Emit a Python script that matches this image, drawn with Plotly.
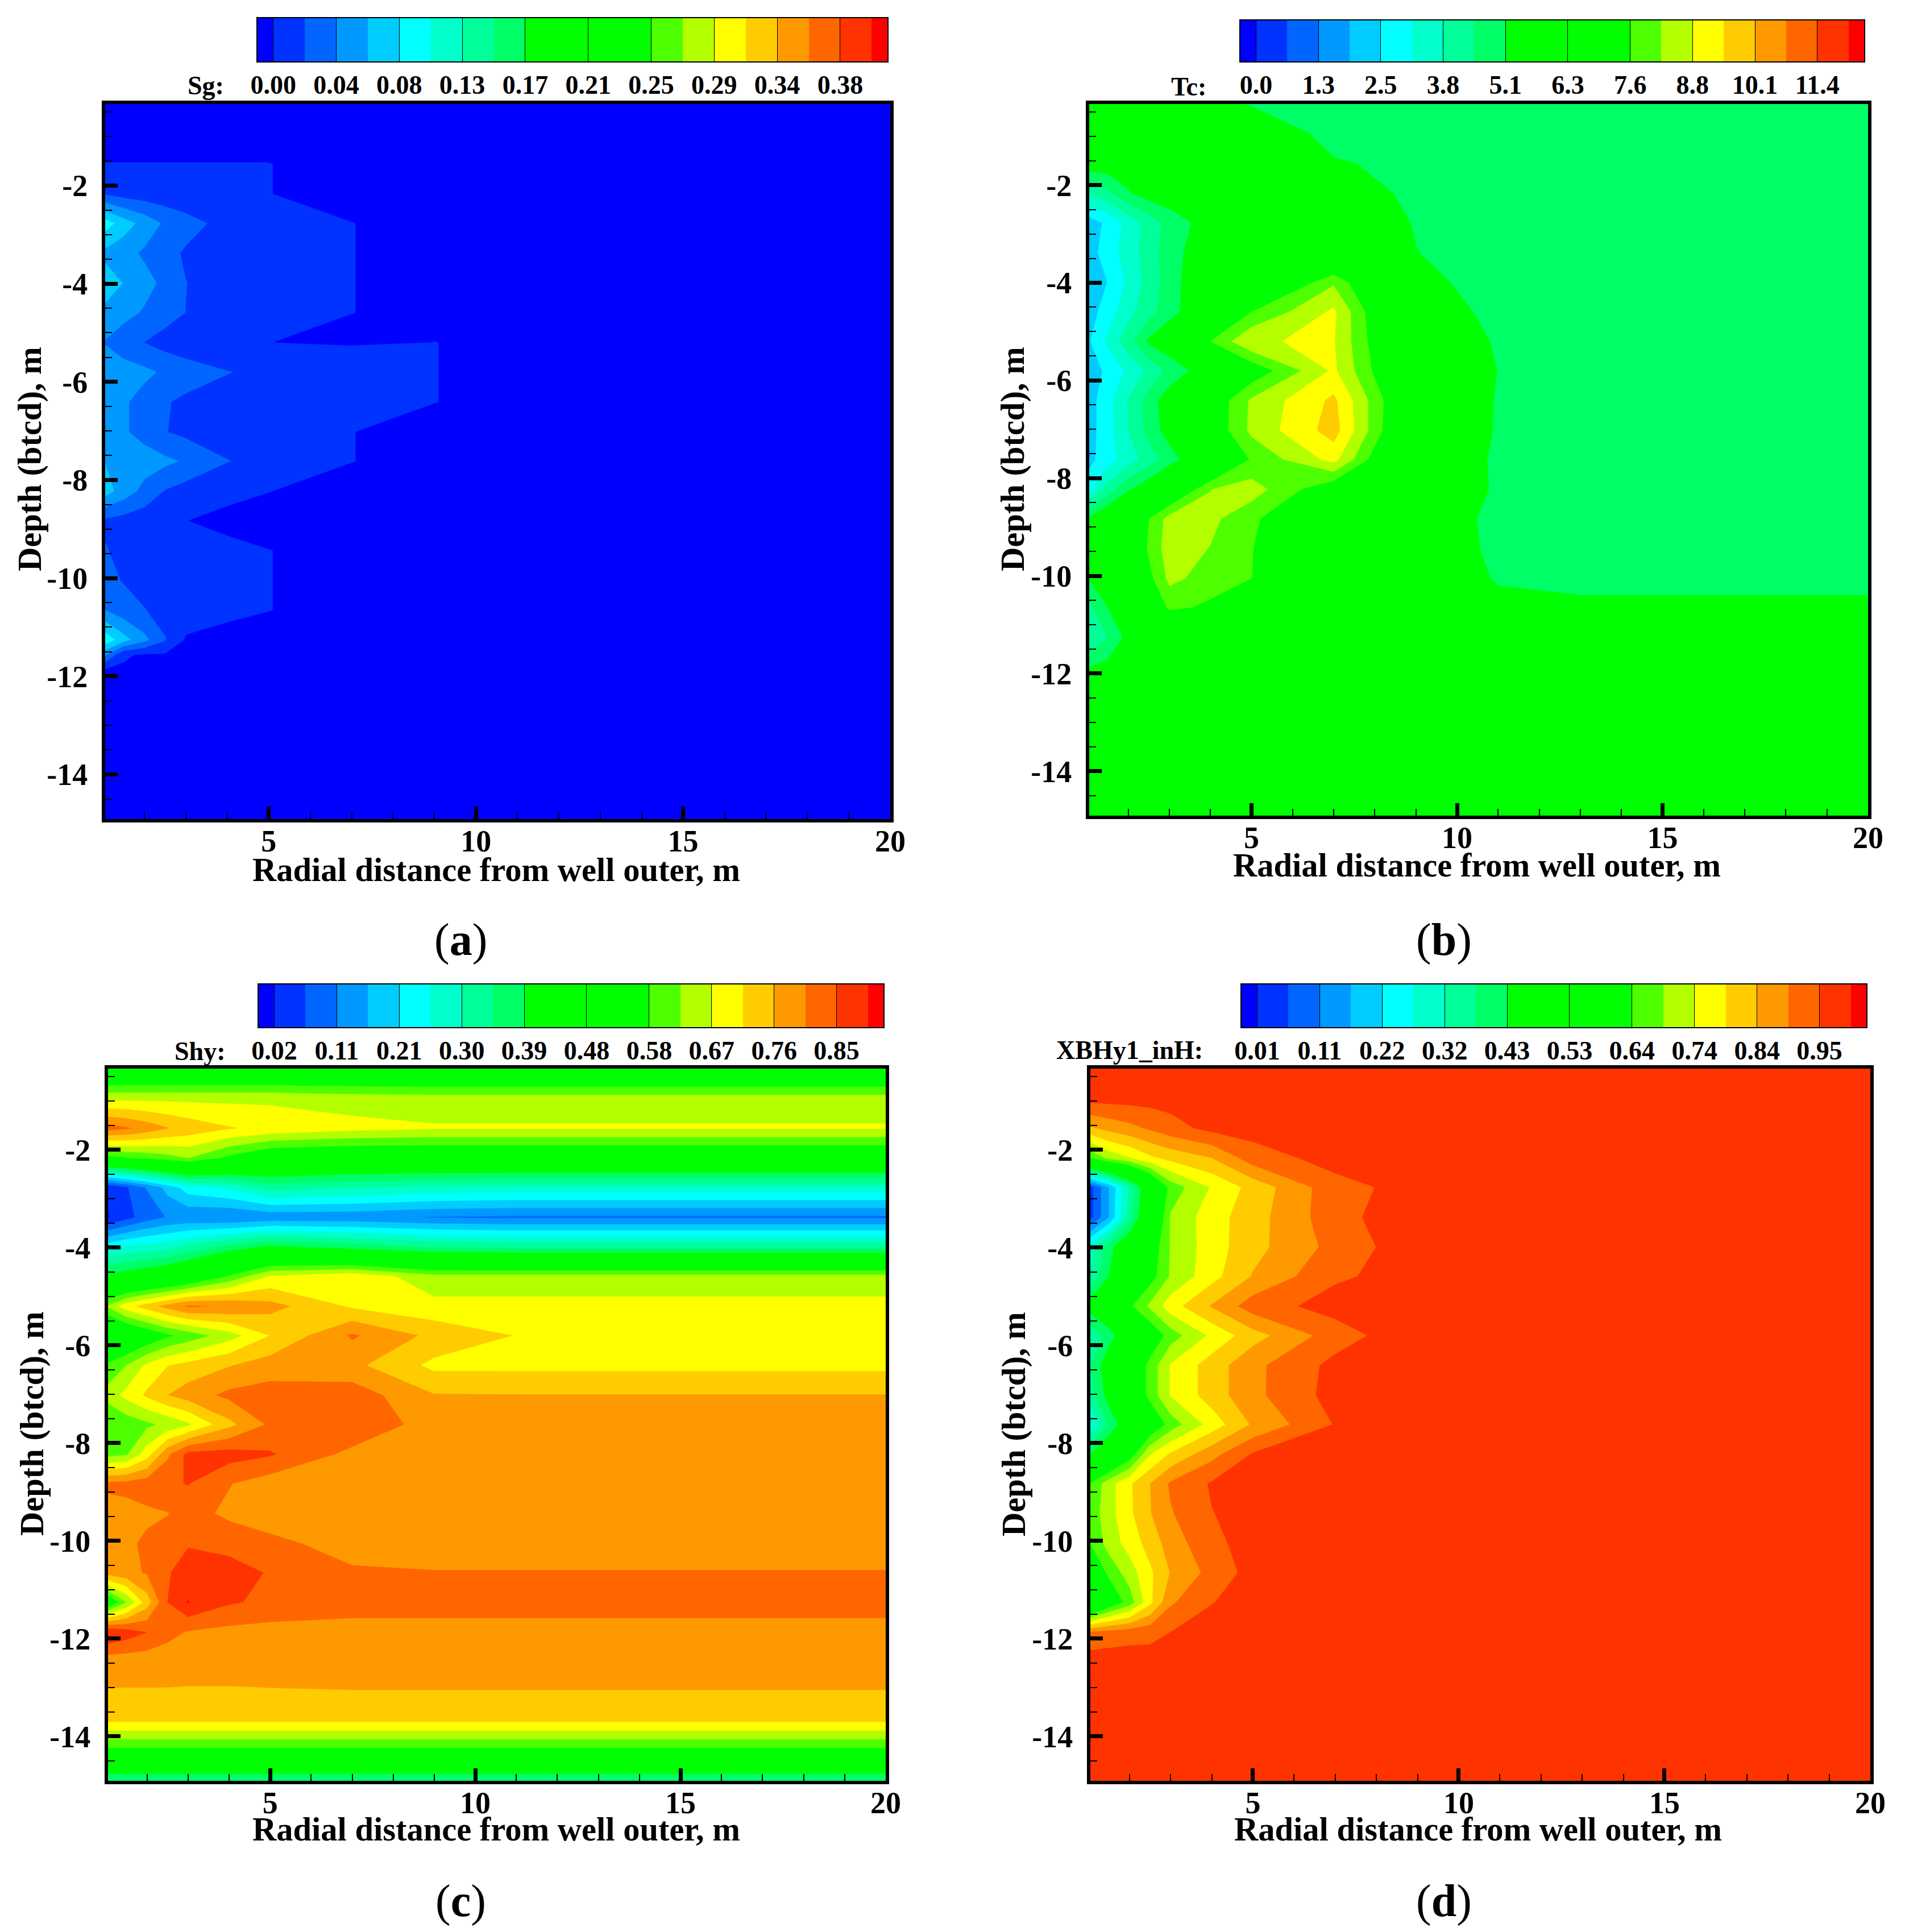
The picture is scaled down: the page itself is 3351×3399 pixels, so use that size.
import plotly.graph_objects as go

W, H = 3351, 3399

RADIUS = [1, 1.5, 2, 2.5, 3, 4, 5, 7, 9, 11, 13, 15, 20]
DEPTH = [-0.34, -0.95, -1.56, -2.17, -2.77, -3.38, -3.99, -4.59, -5.20, -5.80, -6.41, -7.02, -7.62,
         -8.23, -8.83, -9.44, -10.05, -10.65, -11.26, -11.87, -12.47, -13.08, -13.69, -14.29, -14.93]
DEPTH_SG = [-0.34, -0.95, -1.56, -2.17, -2.77, -3.38, -3.99, -4.59, -5.20, -5.80, -6.41, -7.02, -7.62,
            -8.23, -8.83, -9.44, -10.05, -10.65, -11.26, -11.565, -11.87, -12.47, -13.08, -13.69, -14.29, -14.93]

BAND_COLORS = ["#0000ff", "#0033ff", "#0066ff", "#0099ff", "#00ccff", "#00ffff", "#00ffcc", "#00ff99",
               "#00ff66", "#00ff00", "#00ff00", "#00ff00", "#00ff00", "#4dff00", "#b3ff00", "#ffff00",
               "#ffcc00", "#ff9900", "#ff6600", "#ff3300", "#ff0000"]

SG_LABELS = ["0.00", "0.04", "0.08", "0.13", "0.17", "0.21", "0.25", "0.29", "0.34", "0.38"]
TC_LABELS = ["0.0", "1.3", "2.5", "3.8", "5.1", "6.3", "7.6", "8.8", "10.1", "11.4"]
SHY_LABELS = ["0.02", "0.11", "0.21", "0.30", "0.39", "0.48", "0.58", "0.67", "0.76", "0.85"]
XBH_LABELS = ["0.01", "0.11", "0.22", "0.32", "0.43", "0.53", "0.64", "0.74", "0.84", "0.95"]

SG = [
    [0]*13,
    [0]*13,
    [.0021, .0021, .0021, .0021, .0021, .0021, .0021, 0, 0, 0, 0, 0, 0],
    [.023, .015, .012, .01, .01, .01, .0021, 0, 0, 0, 0, 0, 0],
    [.10, .076, .058, .041, .030, .017, .012, .0021, 0, 0, 0, 0, 0],
    [.062, .052, .041, .029, .021, .014, .012, .0021, 0, 0, 0, 0, 0],
    [.077, .065, .052, .039, .0235, .015, .012, .0021, 0, 0, 0, 0, 0],
    [.062, .052, .042, .032, .023, .014, .009, .0021, 0, 0, 0, 0, 0],
    [.044, .031, .023, .015, .01, .006, .0021, 0, .0021, 0, 0, 0, 0],
    [.062, .055, .049, .041, .034, .024, .018, .02, .0021, 0, 0, 0, 0],
    [.062, .047, .037, .025, .019, .015, .013, .011, .0021, 0, 0, 0, 0],
    [.062, .047, .037, .024, .018, .014, .012, .0021, 0, 0, 0, 0, 0],
    [.066, .06, .054, .049, .042, .024, .016, .0021, 0, 0, 0, 0, 0],
    [.077, .056, .038, .022, .014, .004, .0021, 0, 0, 0, 0, 0, 0],
    [.02, .015, .011, .006, .0021, 0, 0, 0, 0, 0, 0, 0, 0],
    [.026, .016, .012, .011, .01, .004, .0021, 0, 0, 0, 0, 0, 0],
    [.03, .022, .015, .012, .011, .01, .0021, 0, 0, 0, 0, 0, 0],
    [.046, .032, .024, .015, .0118, .0034, .0021, 0, 0, 0, 0, 0, 0],
    [.105, .074, .05, .0245, 0, 0, 0, 0, 0, 0, 0, 0, 0],
    [.053, .004, 0, 0, 0, 0, 0, 0, 0, 0, 0, 0, 0],
    [.0021, 0, 0, 0, 0, 0, 0, 0, 0, 0, 0, 0, 0],
    [0]*13,
    [0]*13,
    [0]*13,
    [0]*13,
    [0]*13,
]

TC = [
    [5.3, 5.3, 5.3, 5.3, 5.3, 5.2, 5.04, 4.8, 4.8, 4.8, 4.8, 4.8, 4.8],
    [5.5, 5.5, 5.5, 5.5, 5.5, 5.5, 5.5, 4.9, 4.8, 4.8, 4.8, 4.8, 4.8],
    [5.5, 5.5, 5.5, 5.5, 5.5, 5.5, 5.5, 5.12, 4.95, 4.8, 4.8, 4.8, 4.8],
    [3.8, 4.3, 5.0, 5.4, 5.5, 5.5, 5.5, 5.4, 4.95, 4.8, 4.8, 4.8, 4.8],
    [2.2, 2.67, 3.4, 4.05, 4.7, 5.4, 5.4, 5.4, 5.05, 4.8, 4.8, 4.8, 4.8],
    [2.2, 2.85, 3.5, 4.1, 4.8, 5.6, 5.7, 6.0, 5.08, 4.9, 4.8, 4.8, 4.8],
    [2.1, 2.55, 3.3, 4.05, 4.75, 5.9, 6.0, 8.15, 5.16, 4.95, 4.8, 4.8, 4.8],
    [2.2, 2.85, 3.6, 4.2, 4.85, 5.7, 7.6, 9.0, 5.35, 4.95, 4.8, 4.8, 4.8],
    [2.4, 3.3, 4.2, 5.2, 5.6, 7.61, 8.85, 8.92, 5.75, 5.0, 4.8, 4.8, 4.8],
    [2.1, 2.7, 3.3, 3.95, 4.6, 5.6, 7.1, 9.0, 6.0, 5.06, 4.8, 4.8, 4.8],
    [2.2, 2.95, 3.85, 4.75, 5.5, 7.0, 8.35, 9.65, 6.3, 5.0, 4.8, 4.8, 4.8],
    [2.2, 2.95, 3.8, 4.65, 5.4, 7.0, 8.4, 9.8, 6.1, 5.0, 4.8, 4.8, 4.8],
    [2.3, 2.9, 3.5, 4.1, 4.75, 6.0, 7.7, 9.1, 5.55, 5.0, 4.8, 4.8, 4.8],
    [2.9, 4.1, 5.0, 5.6, 6.5, 8.23, 8.55, 7.0, 5.65, 5.0, 4.8, 4.8, 4.8],
    [5.1, 5.9, 6.8, 7.6, 8.5, 8.4, 7.8, 6.0, 5.43, 4.95, 4.8, 4.8, 4.8],
    [5.4, 6.0, 6.8, 7.7, 8.6, 8.22, 7.65, 5.8, 5.5, 4.95, 4.8, 4.8, 4.8],
    [5.05, 6.0, 6.7, 7.4, 8.4, 8.0, 7.62, 5.6, 5.8, 5.0, 4.9, 4.9, 4.9],
    [4.2, 5.07, 5.6, 6.4, 7.8, 7.45, 6.2, 5.4, 5.4, 5.3, 5.2, 5.2, 5.2],
    [3.7, 4.44, 5.3, 5.5, 5.5, 5.4, 5.4, 5.4, 5.3, 5.3, 5.3, 5.3, 5.3],
    [5.05, 5.3, 5.3, 5.3, 5.3, 5.3, 5.3, 5.3, 5.3, 5.3, 5.3, 5.3, 5.3],
    [5.3]*13,
    [5.3]*13,
    [5.3]*13,
    [5.3]*13,
    [5.3]*13,
]

SHY = [
    [.47]*13,
    [.655, .655, .655, .655, .655, .655, .655, .645, .64, .64, .64, .64, .64],
    [.825, .81, .785, .76, .74, .715, .70, .68, .67, .67, .67, .67, .67],
    [.55, .57, .585, .60, .62, .56, .51, .50, .50, .50, .50, .50, .50],
    [.02, .062, .115, .175, .23, .26, .32, .30, .285, .278, .278, .278, .278],
    [.015, .05, .09, .115, .12, .112, .125, .125, .11, .105, .105, .105, .105],
    [.23, .26, .27, .28, .31, .36, .40, .37, .34, .33, .33, .33, .33],
    [.40, .42, .44, .46, .49, .58, .67, .70, .635, .635, .635, .635, .635],
    [.62, .693, .735, .775, .81, .80, .775, .705, .68, .68, .68, .68, .68],
    [.45, .49, .525, .565, .59, .645, .712, .81, .745, .71, .695, .69, .69],
    [.58, .62, .675, .71, .727, .755, .78, .77, .70, .70, .70, .70, .70],
    [.635, .68, .72, .757, .78, .815, .825, .83, .76, .759, .759, .759, .759],
    [.57, .59, .61, .63, .658, .745, .812, .845, .78, .78, .78, .78, .78],
    [.60, .615, .69, .795, .865, .87, .855, .79, .78, .78, .78, .78, .78],
    [.815, .82, .83, .842, .852, .806, .78, .78, .78, .78, .78, .78, .78],
    [.78, .785, .795, .802, .82, .795, .78, .78, .78, .78, .78, .78, .78],
    [.78, .795, .812, .825, .845, .83, .815, .785, .78, .78, .78, .78, .78],
    [.775, .79, .808, .845, .875, .875, .845, .81, .806, .806, .806, .806, .806],
    [.50, .62, .735, .85, .898, .855, .84, .83, .83, .83, .83, .83, .83],
    [.90, .875, .85, .82, .80, .79, .785, .78, .78, .78, .78, .78, .78],
    [.776, .776, .776, .775, .77, .77, .77, .77, .77, .77, .77, .77, .77],
    [.755, .755, .755, .755, .755, .755, .756, .757, .757, .757, .757, .757, .757],
    [.715]*13,
    [.56]*13,
    [.33]*13,
]

XBH = [
    [.97]*13,
    [.97]*13,
    [.835, .862, .882, .905, .93, .965, .97, .97, .97, .97, .97, .97, .97],
    [.63, .703, .737, .782, .808, .845, .925, .97, .97, .97, .97, .97, .97],
    [.03, .167, .33, .506, .658, .746, .812, .931, .97, .97, .97, .97, .97],
    [.03, .167, .349, .525, .695, .770, .823, .93, .99, .97, .97, .97, .97],
    [.29, .405, .50, .59, .693, .768, .828, .915, .985, .97, .97, .97, .97],
    [.32, .428, .518, .61, .695, .774, .849, .942, .97, .97, .97, .97, .97],
    [.45, .52, .625, .70, .77, .85, .925, .97, .97, .97, .97, .97, .97],
    [.33, .40, .49, .58, .663, .752, .824, .924, .99, .97, .97, .97, .97],
    [.36, .476, .565, .655, .745, .818, .884, .965, .97, .97, .97, .97, .97],
    [.34, .455, .558, .655, .745, .818, .884, .97, .97, .97, .97, .97, .97],
    [.25, .387, .48, .573, .66, .763, .852, .953, .97, .97, .97, .97, .97],
    [.42, .50, .60, .738, .80, .88, .955, .97, .97, .97, .97, .97, .97],
    [.63, .72, .784, .845, .905, .955, .97, .97, .97, .97, .97, .97, .97],
    [.65, .72, .783, .842, .893, .948, .97, .97, .97, .97, .97, .97, .97],
    [.63, .712, .762, .815, .87, .937, .97, .97, .97, .97, .97, .97, .97],
    [.56, .65, .715, .783, .848, .915, .97, .97, .97, .97, .97, .97, .97],
    [.45, .58, .66, .78, .89, .948, .97, .97, .97, .97, .97, .97, .97],
    [.90, .915, .925, .935, .95, .97, .97, .97, .97, .97, .97, .97, .97],
    [.98, .98, .98, .97, .97, .97, .97, .97, .97, .97, .97, .97, .97],
    [.97]*13,
    [.97]*13,
    [.97]*13,
    [.97]*13,
]

PANELS = [
    dict(z=SG, y=DEPTH_SG, lab=SG_LABELS, name="Sg:", l0=.002, step=.0212, box=(185, 1566, 183, 1441),
         bar=(453, 1561, 32, 108), name_xy=(362, 150), letter="a", letter_xy=(810, 1653),
         xt=(873, 1530), yt=(52, 808)),
    dict(z=TC, y=DEPTH, lab=TC_LABELS, name="Tc:", l0=0.0, step=.634, box=(1916, 3286, 183, 1435),
         bar=(2182, 3279, 36, 108), name_xy=(2091, 152), letter="b", letter_xy=(2540, 1653),
         xt=(2598, 1522), yt=(1781, 808)),
    dict(z=SHY, y=DEPTH, lab=SHY_LABELS, name="Shy:", l0=.02, step=.0461, box=(190, 1558, 1880, 3133),
         bar=(455, 1554, 1732, 1807), name_xy=(351, 1849), letter="c", letter_xy=(810, 3344),
         xt=(873, 3218), yt=(56, 2505)),
    dict(z=XBH, y=DEPTH, lab=XBH_LABELS, name="XBHy1_inH:", l0=.01, step=.0522, box=(1918, 3290, 1880, 3133),
         bar=(2184, 3283, 1732, 1807), name_xy=(1987, 1847), letter="d", letter_xy=(2540, 3344),
         xt=(2600, 3218), yt=(1783, 2505)),
]

SERIF = "Liberation Serif"
NLEV = 20
X_START = 1.05

# plotly samples the colour scale at k/NLEV for the area under the k-th level
stops = [[k / NLEV, BAND_COLORS[k]] for k in range(NLEV + 1)]

bar_scale = []
for i, c in enumerate(BAND_COLORS):
    bar_scale += [[i / len(BAND_COLORS), c], [(i + 1) / len(BAND_COLORS), c]]

fig = go.Figure()
layout = {}
anns = []


def px(x):
    return x / W


def py(y):
    return 1 - y / H


for n, p in enumerate(PANELS):
    a = 2 * n + 1
    b = 2 * n + 2
    xa, ya, xb, yb = f"x{a}", f"y{a}", f"x{b}", f"y{b}"
    L = [p["l0"] + i * p["step"] for i in range(NLEV)]
    fig.add_trace(go.Contour(
        x=RADIUS, y=p["y"], z=p["z"], xaxis=xa, yaxis=ya,
        autocontour=False,
        contours=dict(start=L[0], end=L[-1], size=p["step"], coloring="fill", showlines=False),
        line=dict(width=0, smoothing=0), colorscale=stops, showscale=False, hoverinfo="skip",
    ))
    x0, x1, y0, y1 = p["box"]
    layout[f"xaxis{a}"] = dict(
        domain=[px(x0), px(x1)], anchor=ya, range=[X_START, 20], tickvals=[5, 10, 15, 20], automargin=False,
        ticks="inside", ticklen=22, tickwidth=7, tickcolor="black",
        minor=dict(tickvals=[i for i in range(2, 20) if i % 5], ticks="inside", ticklen=12, tickwidth=2,
                   tickcolor="black"),
        showgrid=False, zeroline=False, showline=True, mirror=True, linecolor="black", linewidth=6,
        tickfont=dict(family=SERIF, size=54, color="black", weight=700), ticklabelstandoff=-14, tickangle=0,
    )
    layout[f"yaxis{a}"] = dict(
        domain=[py(y1), py(y0)], anchor=xa, range=[-14.91, -0.34], tickvals=[-2, -4, -6, -8, -10, -12, -14],
        ticktext=["-2", "-4", "-6", "-8", "-10", "-12", "-14"], automargin=False,
        ticks="inside", ticklen=22, tickwidth=7, tickcolor="black",
        minor=dict(tickvals=[-0.5 * i for i in range(1, 30) if i % 4], ticks="inside", ticklen=12, tickwidth=2,
                   tickcolor="black"),
        showgrid=False, zeroline=False, showline=True, mirror=True, linecolor="black", linewidth=6,
        tickfont=dict(family=SERIF, size=54, color="black", weight=700), ticklabelstandoff=14,
    )
    # colour legend drawn as a one-row heatmap
    edges = [L[0] - p["step"] / 2] + L + [L[-1] + p["step"] / 2]
    fig.add_trace(go.Heatmap(
        x=edges, y=[0, 1], z=[list(range(len(BAND_COLORS)))], xaxis=xb, yaxis=yb,
        zmin=-0.5, zmax=len(BAND_COLORS) - 0.5, colorscale=bar_scale, showscale=False, hoverinfo="skip",
    ))
    bx0, bx1, by0, by1 = p["bar"]
    layout[f"xaxis{b}"] = dict(
        domain=[px(bx0), px(bx1)], anchor=yb, range=[edges[0], edges[-1]], automargin=False,
        tickvals=[L[2 * i] for i in range(len(p["lab"]))], ticktext=p["lab"],
        ticks="inside", ticklen=by1 - by0, tickwidth=1, tickcolor="black",
        showgrid=False, zeroline=False, showline=True, mirror=True, linecolor="black", linewidth=2,
        tickfont=dict(family=SERIF, size=46, color="black", weight=700), ticklabelstandoff=0, tickangle=0,
    )
    layout[f"yaxis{b}"] = dict(
        domain=[py(by1), py(by0)], anchor=xb, range=[0, 1], showticklabels=False, ticks="", automargin=False,
        showgrid=False, zeroline=False, showline=True, mirror=True, linecolor="black", linewidth=2,
    )
    anns.append(dict(text=f"<b>{p['name']}</b>", x=px(p["name_xy"][0]), y=py(p["name_xy"][1]),
                     font=dict(family=SERIF, size=46, color="black")))
    anns.append(dict(text="<b>Radial distance from well outer, m</b>", x=px(p["xt"][0]), y=py(p["xt"][1]),
                     font=dict(family=SERIF, size=58.5, color="black")))
    anns.append(dict(text="<b>Depth (btcd), m</b>", x=px(p["yt"][0]), y=py(p["yt"][1]), textangle=-90,
                     font=dict(family=SERIF, size=58.5, color="black")))
    anns.append(dict(text=f"(<b>{p['letter']}</b>)", x=px(p["letter_xy"][0]), y=py(p["letter_xy"][1]),
                     font=dict(family=SERIF, size=80, color="black")))

for an in anns:
    an.update(xref="paper", yref="paper", xanchor="center", yanchor="middle", showarrow=False)

fig.update_layout(template="none", width=W, height=H, margin=dict(l=0, r=0, t=0, b=0), paper_bgcolor="white",
                  plot_bgcolor="white", showlegend=False, annotations=anns, **layout)

fig.write_html("out.html", config=dict(displayModeBar=False),
               post_script="document.body.style.margin='0';document.body.style.overflow='hidden';")
